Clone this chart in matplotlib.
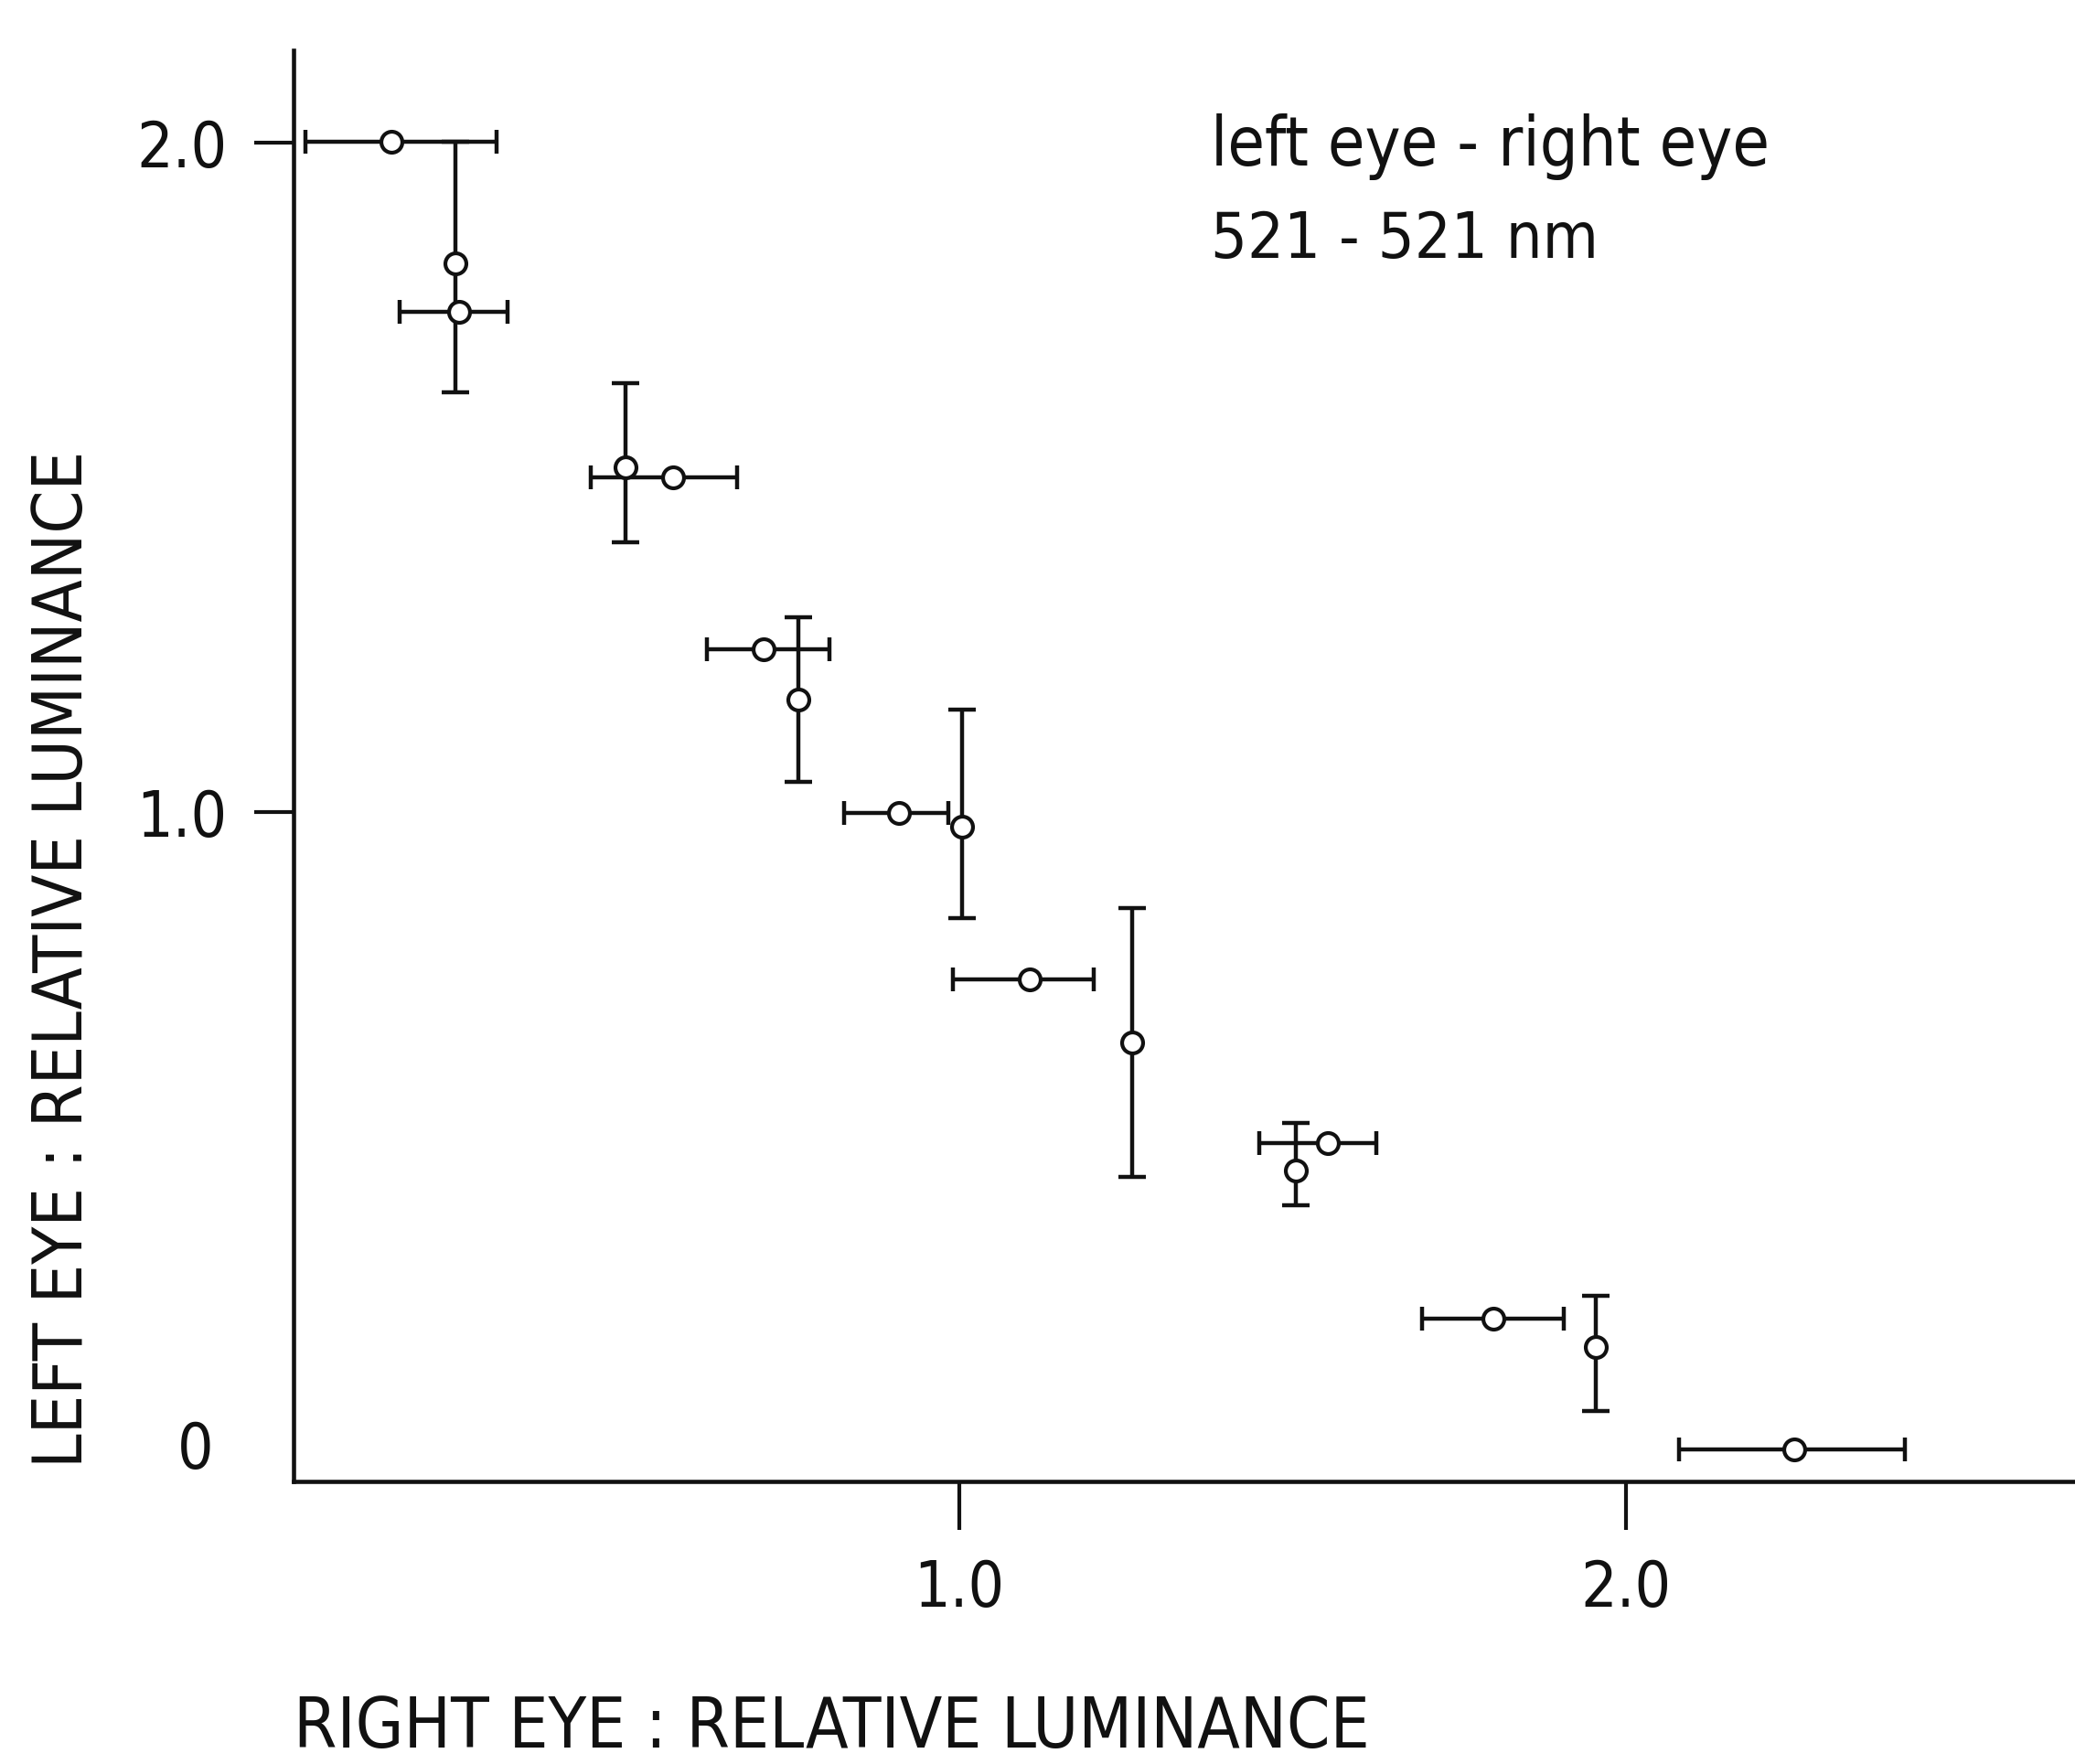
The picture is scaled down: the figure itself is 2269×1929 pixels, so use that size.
import matplotlib
matplotlib.use("Agg")
import matplotlib.pyplot as plt
from matplotlib import font_manager
from matplotlib.font_manager import FontProperties

# ---- data ----
# points with vertical error bars (left-eye variability)
v_x = [0.244, 0.499, 0.759, 1.004, 1.260, 1.505, 1.955]
v_y = [1.820, 1.515, 1.169, 0.978, 0.656, 0.465, 0.201]
v_ylo = [1.628, 1.403, 1.045, 0.842, 0.456, 0.413, 0.105]
v_yhi = [2.002, 1.641, 1.291, 1.154, 0.857, 0.536, 0.278]

# points with horizontal error bars (right-eye variability)
h_x = [0.148, 0.249, 0.571, 0.706, 0.909, 1.106, 1.553, 1.801, 2.253]
h_y = [2.002, 1.747, 1.501, 1.244, 0.999, 0.751, 0.506, 0.244, 0.048]
h_xlo = [0.018, 0.160, 0.447, 0.621, 0.827, 0.990, 1.450, 1.695, 2.080]
h_xhi = [0.306, 0.322, 0.667, 0.805, 0.984, 1.202, 1.626, 1.907, 2.420]

x_ticks = [1.0, 2.0]
x_ticklabels = ["1.0", "2.0"]
y_ticks = [1.0, 2.0]
y_ticklabels = ["1.0", "2.0"]

title_lines = ["left eye - right eye", "521 - 521 nm"]
x_label = "RIGHT EYE : RELATIVE LUMINANCE"
y_label = "LEFT EYE : RELATIVE LUMINANCE"

# ---- font: prefer a condensed sans if one is installed ----
def find_condensed():
    best = None
    for f in font_manager.fontManager.ttflist:
        nm = f.name
        st = f.stretch
        cond = ("Narrow" in nm or "Condensed" in nm or "Cond" in nm or
                (isinstance(st, str) and "condensed" in st) or
                (isinstance(st, (int, float)) and st < 500))
        if not cond:
            continue
        if f.style != "normal":
            continue
        w = f.weight if isinstance(f.weight, (int, float)) else 400
        if w != 400:
            continue
        if "Mono" in nm or "Serif" in nm:
            continue
        if best is None:
            best = f
    return best

cf = find_condensed()
if cf is not None:
    FP = FontProperties(fname=cf.fname)
else:
    FP = FontProperties(family="DejaVu Sans")
plt.rcParams["font.family"] = ["DejaVu Sans"]

W, H = 2269, 1929
fig = plt.figure(figsize=(W / 100, H / 100), dpi=100)
fig.patch.set_facecolor("white")

x0_px, y0_px, ytop_px = 320.5, 1620.3, 55.0
ax = fig.add_axes([x0_px / W, (H - y0_px) / H, 1 - x0_px / W, (y0_px - ytop_px) / H])
ax.set_xlim(0, (W - x0_px) / 728.5)
ax.set_ylim(0, (y0_px - ytop_px) / 732.0)

LW = 3.2
INK = "#111111"

v_err = [[y - lo for y, lo in zip(v_y, v_ylo)], [hi - y for y, hi in zip(v_y, v_yhi)]]
h_err = [[x - lo for x, lo in zip(h_x, h_xlo)], [hi - x for x, hi in zip(h_x, h_xhi)]]

ax.errorbar(v_x, v_y, yerr=v_err, fmt="none", ecolor=INK, elinewidth=LW,
            capsize=10.5, capthick=LW, zorder=2)
ax.errorbar(h_x, h_y, xerr=h_err, fmt="none", ecolor=INK, elinewidth=LW,
            capsize=9.5, capthick=LW, zorder=2)
ax.plot(v_x + h_x, v_y + h_y, linestyle="none", marker="o", markersize=16.5,
        markerfacecolor="white", markeredgecolor=INK, markeredgewidth=3.0,
        zorder=3, clip_on=False)

for s in ["top", "right"]:
    ax.spines[s].set_visible(False)
for s in ["left", "bottom"]:
    ax.spines[s].set_linewidth(3.3)
    ax.spines[s].set_color(INK)

ax.set_xticks(x_ticks)
ax.set_yticks(y_ticks)
ax.set_xticklabels(x_ticklabels, fontproperties=FP)
ax.set_yticklabels(y_ticklabels, fontproperties=FP)
ax.tick_params(axis="x", direction="out", length=38, width=3.0, pad=22, colors=INK)
ax.tick_params(axis="y", direction="out", length=31, width=3.0, pad=21, colors=INK)

zero = ax.text((234 - x0_px) / (W - x0_px), 0.0, "0", transform=ax.get_yaxis_transform(),
               ha="right", va="bottom", color=INK, fontproperties=FP)

t1 = fig.text(1324 / W, 1 - 181 / H, title_lines[0], ha="left", va="baseline",
              color=INK, fontproperties=FP)
t2 = fig.text(1324 / W, 1 - 282 / H, title_lines[1], ha="left", va="baseline",
              color=INK, fontproperties=FP)
yl = fig.text(70 / W, 1 - 1049 / H, y_label, rotation=90, ha="center", va="center",
              color=INK, fontproperties=FP)
xl = fig.text(321 / W, 1 - 1911 / H, x_label, ha="left", va="baseline",
              color=INK, fontproperties=FP)

# size each text so that its length matches the reference
fig.canvas.draw()
renderer = fig.canvas.get_renderer()

def fit(t, target, base, vertical=False):
    t.set_fontsize(base)
    bb = t.get_window_extent(renderer)
    L = bb.height if vertical else bb.width
    s = min(base * 1.15, base * target / L)
    t.set_fontsize(s)
    return s

s1 = fit(t1, 612, 58)
t2.set_fontsize(0.95 * s1)
fit(yl, 1114, 60, vertical=True)
fit(xl, 1176, 57)

# tick labels: match the width of "2.0" (about 97 px)
probe = fig.text(0, 0, "2.0", fontproperties=FP)
probe.set_fontsize(58)
bb = probe.get_window_extent(renderer)
tsize = min(64, 58 * 99 / bb.width)
tsize = 0.5 * (tsize + 58) if cf is None else tsize
probe.remove()
for lab in ax.get_xticklabels() + ax.get_yticklabels():
    lab.set_fontsize(tsize)
zero.set_fontsize(tsize)

fig.savefig("out.png", dpi=100, facecolor="white")
